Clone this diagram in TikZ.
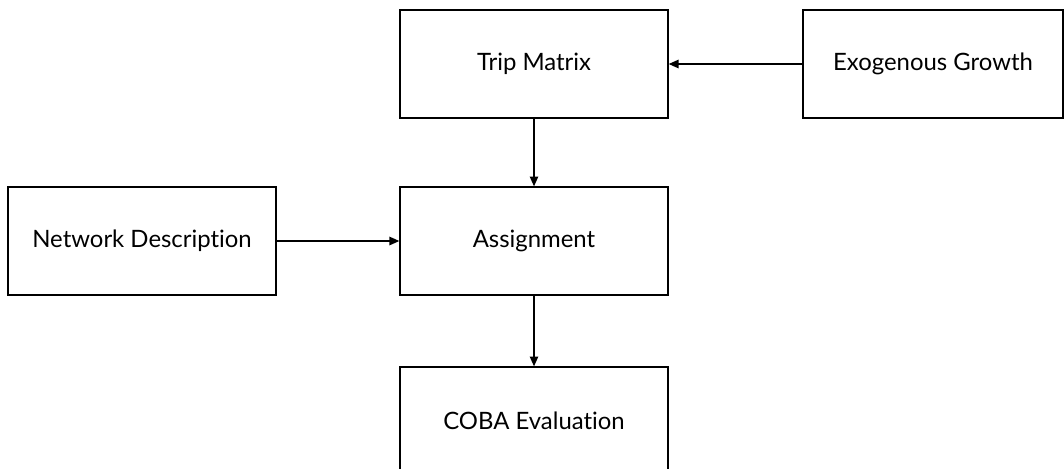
\documentclass[tikz,border=0pt]{standalone}
\usepackage{fontspec}
\setmainfont{Lato}[Ligatures=NoCommon]
\usetikzlibrary{arrows.meta}
\tikzset{box/.style={draw,line width=0.9pt,minimum width=6.7cm,minimum height=2.7cm,font=\fontsize{17}{20}\selectfont}}
\begin{document}
\begin{tikzpicture}[x=0.025cm,y=-0.025cm]
\useasboundingbox (0,0) rectangle (1064,468);
\clip (0,0) rectangle (1064,468);
\path (534,64) node[box](trip){Trip Matrix}
      (933,64) node[box,minimum width=6.5cm](exo){Exogenous Growth}
      (142,241) node[box](net){Network Description}
      (534,241) node[box](assign){Assignment}
      (534,421) node[box](coba){COBA Evaluation};
\draw[-{Triangle[length=7pt,width=6pt]},line width=0.9pt] (exo.west) -- (trip.east);
\draw[-{Triangle[length=7pt,width=6pt]},line width=0.9pt] (trip.south) -- (assign.north);
\draw[-{Triangle[length=7pt,width=6pt]},line width=0.9pt] (net.east) -- (assign.west);
\draw[-{Triangle[length=7pt,width=6pt]},line width=0.9pt] (assign.south) -- (coba.north);
\end{tikzpicture}
\end{document}
